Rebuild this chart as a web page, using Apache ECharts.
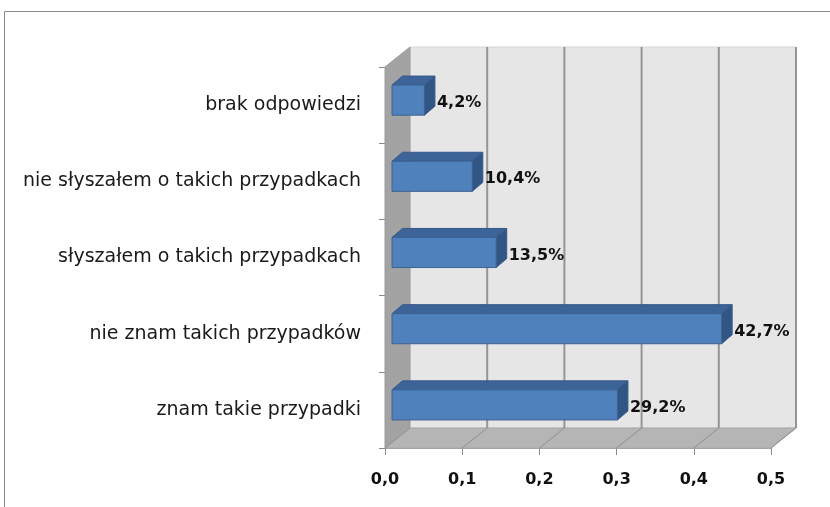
<!DOCTYPE html>
<html>
<head>
<meta charset="utf-8">
<script src="https://cdn.jsdelivr.net/npm/echarts@6/dist/echarts.min.js"></script>
<style>
html,body{margin:0;padding:0;background:#fff;}
#chart{width:830px;height:507px;}
</style>
</head>
<body>
<div id="chart"></div>
<script>
// ---- data ----
const categories = [
  'znam takie przypadki',
  'nie znam takich przypadków',
  'słyszałem o takich przypadkach',
  'nie słyszałem o takich przypadkach',
  'brak odpowiedzi'
];
const values = [0.292, 0.427, 0.135, 0.104, 0.042];
const valueLabels = ['29,2%', '42,7%', '13,5%', '10,4%', '4,2%'];
const xTicks = [0, 0.1, 0.2, 0.3, 0.4, 0.5];

// ---- 3D styling (pixels) ----
const DX = 25, DY = -20;          // wall depth
const BX0 = 7, BY0 = -5;          // bar front face offset
const BDX = 10.5, BDY = -9;       // bar depth
const FONT = 'DejaVu Sans';

const chart = echarts.init(document.getElementById('chart'), null, {renderer: 'canvas'});

function wallsRender(params, api) {
  const cs = params.coordSys;
  const x0 = cs.x, y0 = cs.y, w = cs.width, h = cs.height;
  const children = [];
  children.push({type: 'rect', shape: {x: x0 + DX, y: y0 + DY, width: w, height: h},
    style: {fill: '#e6e6e6', stroke: '#d6d6d6', lineWidth: 1}});
  children.push({type: 'polygon', shape: {points: [[x0, y0], [x0 + DX, y0 + DY], [x0 + DX, y0 + h + DY], [x0, y0 + h]]},
    style: {fill: '#a3a3a3', stroke: '#9a9a9a', lineWidth: 1}});
  children.push({type: 'polygon', shape: {points: [[x0, y0 + h], [x0 + DX, y0 + h + DY], [x0 + w + DX, y0 + h + DY], [x0 + w, y0 + h]]},
    style: {fill: '#b5b5b5', stroke: '#a8a8a8', lineWidth: 1}});
  xTicks.forEach(function (t) {
    const px = api.coord([t, 0])[0];
    if (t > 0) {
      children.push({type: 'line', shape: {x1: px + DX, y1: y0 + DY, x2: px + DX, y2: y0 + h + DY},
        style: {stroke: '#959595', lineWidth: 2}});
    }
    children.push({type: 'line', shape: {x1: px, y1: y0 + h, x2: px + DX, y2: y0 + h + DY},
      style: {stroke: '#8f8f8f', lineWidth: 1}});
  });
  return {type: 'group', children: children};
}

function barRender(params, api) {
  const idx = api.value(0);
  const val = api.value(1);
  const p0 = api.coord([0, idx]);
  const p1 = api.coord([val, idx]);
  const band = api.size([0, 1])[1];
  const bh = band * 0.395;
  const xL = p0[0] + BX0, xR = p1[0] + BX0;
  const yC = p0[1] + BY0;
  const yT = yC - bh / 2, yB = yC + bh / 2;
  const edge = '#36598a';
  return {
    type: 'group',
    children: [
      {type: 'polygon', shape: {points: [[xL, yT], [xL + BDX, yT + BDY], [xR + BDX, yT + BDY], [xR, yT]]},
        style: {fill: '#3c6499', stroke: edge, lineWidth: 1}},
      {type: 'polygon', shape: {points: [[xR, yT], [xR + BDX, yT + BDY], [xR + BDX, yB + BDY], [xR, yB]]},
        style: {fill: '#325684', stroke: edge, lineWidth: 1}},
      {type: 'rect', shape: {x: xL, y: yT, width: xR - xL, height: bh},
        style: {fill: '#4f81bd', stroke: '#3b6291', lineWidth: 1}},
      {type: 'text', x: xR + BDX + 2, y: yC + 3,
        style: {text: valueLabels[params.dataIndex], fill: '#111', font: 'bold 16px "' + FONT + '"',
          align: 'left', verticalAlign: 'middle'}}
    ]
  };
}

const option = {
  animation: false,
  backgroundColor: '#ffffff',
  graphic: [{
    type: 'rect', z: -10, silent: true,
    shape: {x: 4.5, y: 11.5, width: 900, height: 600},
    style: {fill: 'none', stroke: '#8a8a8a', lineWidth: 1}
  }],
  grid: {left: 385, top: 67, width: 386, height: 381},
  xAxis: {
    type: 'value', min: 0, max: 0.5, interval: 0.1,
    axisLine: {show: true, lineStyle: {color: '#a0a0a0', width: 1}},
    axisTick: {show: true, length: 7, lineStyle: {color: '#8a8a8a'}},
    splitLine: {show: false},
    axisLabel: {
      margin: 24, color: '#111',
      fontFamily: FONT, fontSize: 16, fontWeight: 'bold',
      formatter: function (v) { return v.toFixed(1).replace('.', ','); }
    }
  },
  yAxis: {
    type: 'category', data: categories,
    axisLine: {show: true, lineStyle: {color: '#9a9a9a'}},
    axisTick: {show: true, length: 6, lineStyle: {color: '#8a8a8a'}},
    axisLabel: {margin: 24, color: '#1a1a1a', fontFamily: FONT, fontSize: 19}
  },
  series: [
    {
      type: 'custom', z: 1, silent: true,
      renderItem: wallsRender,
      data: [[0, 0]],
      encode: {x: 0, y: 1}
    },
    {
      type: 'custom', z: 3, silent: true,
      renderItem: barRender,
      data: values.map(function (v, i) { return [i, v]; }),
      encode: {x: 1, y: 0}
    }
  ]
};
chart.setOption(option);
</script>
</body>
</html>
